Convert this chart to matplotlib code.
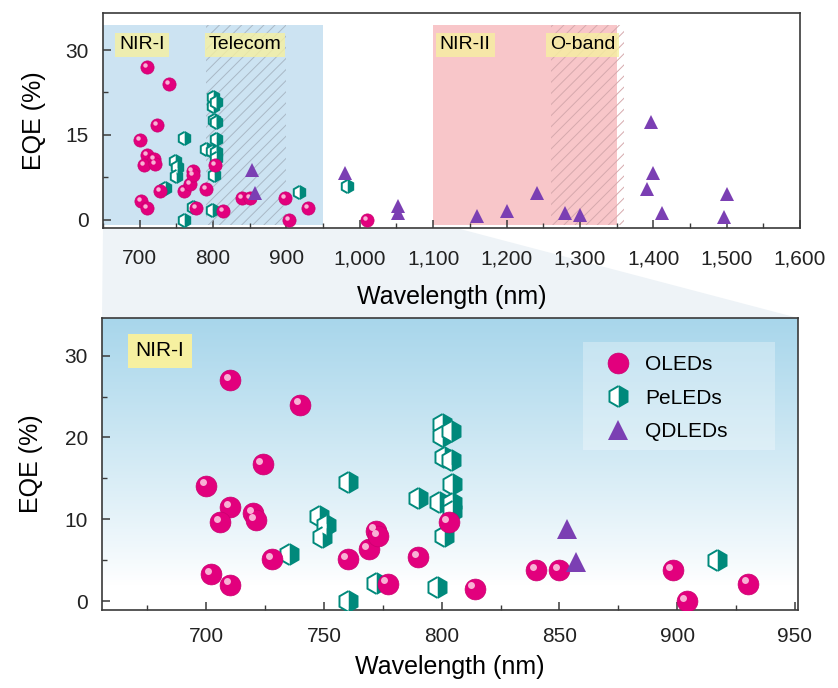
import numpy as np
import matplotlib
matplotlib.use("Agg")
import matplotlib.pyplot as plt
import matplotlib.transforms as mtransforms
from matplotlib.patches import Rectangle, Polygon
from matplotlib.lines import Line2D
from matplotlib.ticker import MultipleLocator, FuncFormatter

plt.rcParams['font.family'] = ['Liberation Sans', 'DejaVu Sans']
plt.rcParams['hatch.linewidth'] = 0.7

# --- data (wavelength in nm, EQE in %) ---
oled_wl = [710, 740, 724, 700, 710, 706, 720, 721, 728, 702, 710, 760, 769, 772,
           773, 777, 790, 803, 814, 840, 850, 898, 904, 930, 1010]
oled_eqe = [27.0, 24.0, 16.7, 14.1, 11.5, 9.6, 10.7, 9.9, 5.1, 3.3, 2.0, 5.1, 6.3, 8.6,
            7.9, 2.1, 5.4, 9.6, 1.5, 3.8, 3.8, 3.8, 0.0, 2.1, 0.0]

pe_wl = [760, 748, 751, 749, 735, 760, 772, 790, 798, 801, 800, 800, 804, 801,
         804, 804.5, 799, 804.5, 804.5, 917, 983]
pe_eqe = [14.5, 10.4, 9.3, 7.8, 5.7, 0.0, 2.2, 12.6, 1.7, 7.9, 21.7, 20.2, 20.8, 17.6,
          17.3, 14.3, 12.1, 12.0, 11.0, 5.0, 5.9]

qd_wl = [853, 857, 980, 1052, 1052, 1160, 1200, 1242, 1280, 1300, 1397, 1400, 1392,
         1412, 1501, 1496]
qd_eqe = [8.8, 4.8, 8.2, 2.4, 1.2, 0.6, 1.5, 4.7, 1.2, 0.9, 17.3, 8.2, 5.4,
          1.2, 4.5, 0.5]

band_names = ['NIR-I', 'NIR-II']
band_start = [650, 1100]
band_end = [950, 1350]
band_colors = ['#cce3f2', '#f8c6c9']

sub_names = ['Telecom', 'O-band']
sub_start = [790, 1260]
sub_end = [900, 1360]
sub_hatch_colors = ['#a9b8c6', '#d6a9ad']

OLED_C = '#e2007d'
PE_C = '#00897b'
QD_C = '#7b3fb3'
LABEL_BOX = '#f6f0a0'

fig = plt.figure(figsize=(8.38, 6.88), dpi=100)
W, H = 838.0, 688.0
ax1 = fig.add_axes([103 / W, 1 - 228.3 / H, 697 / W, 215.6 / H])
ax2 = fig.add_axes([102 / W, 1 - 610 / H, 696 / W, 292 / H])

# faint "zoom" connector between the two panels
fig.add_artist(Polygon([[103 / W, 1 - 229 / H], [460 / W, 1 - 229 / H],
                        [798 / W, 1 - 318 / H], [102 / W, 1 - 318 / H]],
                       closed=True, transform=fig.transFigure,
                       facecolor='#eef3f7', edgecolor='none', zorder=-1))


def draw_points(ax, ms, hi):
    off = mtransforms.offset_copy(ax.transData, fig=fig, x=-ms * 0.16, y=ms * 0.16, units='points')
    ax.plot(oled_wl, oled_eqe, ls='none', marker='o', ms=ms, color=OLED_C,
            mec='#c9006f', mew=0.5, zorder=5)
    ax.plot(oled_wl, oled_eqe, ls='none', marker='o', ms=hi, color='#fbc6df',
            mew=0, alpha=0.9, transform=off, zorder=6)
    ax.plot(pe_wl, pe_eqe, ls='none', marker='h', ms=ms, fillstyle='right',
            markerfacecolor=PE_C, markerfacecoloralt='white', markeredgecolor=PE_C,
            mew=1.4, zorder=4)
    ax.plot(qd_wl, qd_eqe, ls='none', marker='^', ms=ms, color=QD_C, mew=0, zorder=7)


def style_axis(ax):
    for s in ax.spines.values():
        s.set_color('#3a3a3a')
        s.set_linewidth(1.2)
    ax.tick_params(which='both', direction='in', colors='#3a3a3a', labelcolor='#222222',
                   labelsize=15)
    ax.tick_params(which='major', length=6, width=1.1)
    ax.tick_params(which='minor', length=3.5, width=1.0)


# ---------------- top panel ----------------
y0, y1 = -1.0, 34.4
for name, a, b, c in zip(band_names, band_start, band_end, band_colors):
    ax1.add_patch(Rectangle((a, y0), b - a, y1 - y0, facecolor=c, edgecolor='none', zorder=1))
for name, a, b, hc in zip(sub_names, sub_start, sub_end, sub_hatch_colors):
    ax1.add_patch(Rectangle((a, y0), b - a, y1 - y0, facecolor='none', edgecolor=hc,
                            hatch='///', lw=0, zorder=2))

draw_points(ax1, 9.5, 3.2)

label_pos = [(672, 'NIR-I'), (794, 'Telecom'), (1109, 'NIR-II'), (1259, 'O-band')]
for x, t in label_pos:
    ax1.text(x, 30.9, t, fontsize=14, ha='left', va='center', zorder=8,
             bbox=dict(boxstyle='square,pad=0.2', facecolor=LABEL_BOX, edgecolor='none',
                       alpha=0.8))

ax1.set_xlim(650, 1600)
ax1.set_ylim(-1.5, 36.6)
ax1.xaxis.set_major_locator(MultipleLocator(100))
ax1.xaxis.set_minor_locator(MultipleLocator(50))
ax1.yaxis.set_major_locator(MultipleLocator(15))
ax1.yaxis.set_minor_locator(MultipleLocator(7.5))
ax1.xaxis.set_major_formatter(FuncFormatter(lambda v, p: f'{v:,.0f}'))
style_axis(ax1)
ax1.tick_params(axis='x', pad=15)
ax1.tick_params(axis='y', pad=10)
ax1.set_xlabel('Wavelength (nm)', fontsize=18, labelpad=12)
ax1.set_ylabel('EQE (%)', fontsize=18, labelpad=14)

# ---------------- bottom panel ----------------
xl0, xl1 = 655.7, 951.3
yl0, yl1 = -1.1, 34.6
ys = np.linspace(yl0, yl1, 300)
t = np.clip((ys - 2.0) / (yl1 - 2.0), 0, 1) ** 0.9
top_rgb = np.array([168, 214, 235]) / 255.0
white = np.array([1.0, 1.0, 1.0])
grad = white[None, :] * (1 - t[:, None]) + top_rgb[None, :] * t[:, None]
ax2.imshow(grad[:, None, :], extent=[xl0, xl1, yl0, yl1], origin='lower',
           aspect='auto', zorder=0, interpolation='bilinear')

draw_points(ax2, 15, 5)

ax2.text(670, 30.6, 'NIR-I', fontsize=15, ha='left', va='center', zorder=8,
         bbox=dict(boxstyle='square,pad=0.35', facecolor=LABEL_BOX, edgecolor='none'))

# legend: translucent panel behind a frameless legend
ax2.add_patch(Rectangle((0.691, 0.548), 0.276, 0.37, transform=ax2.transAxes,
                        facecolor='white', alpha=0.3, edgecolor='none', zorder=8))
handles = [
    Line2D([], [], ls='none', marker='o', ms=15, color=OLED_C, mec='#c9006f', mew=0.5),
    Line2D([], [], ls='none', marker='h', ms=15, fillstyle='right', markerfacecolor=PE_C,
           markerfacecoloralt='white', markeredgecolor=PE_C, mew=1.4),
    Line2D([], [], ls='none', marker='^', ms=15, color=QD_C, mew=0),
]
leg = ax2.legend(handles, ['OLEDs', 'PeLEDs', 'QDLEDs'], loc='upper left',
                 bbox_to_anchor=(0.717, 0.873), borderaxespad=0, borderpad=0,
                 fontsize=15, frameon=False, handletextpad=0.5, labelspacing=0.7,
                 handlelength=1.6)
leg.set_zorder(9)

ax2.set_xlim(xl0, xl1)
ax2.set_ylim(yl0, yl1)
ax2.xaxis.set_major_locator(MultipleLocator(50))
ax2.xaxis.set_minor_locator(MultipleLocator(25))
ax2.yaxis.set_major_locator(MultipleLocator(10))
ax2.yaxis.set_minor_locator(MultipleLocator(5))
style_axis(ax2)
ax2.tick_params(axis='x', pad=12)
ax2.tick_params(axis='y', pad=10)
ax2.set_xlabel('Wavelength (nm)', fontsize=18, labelpad=7)
ax2.set_ylabel('EQE (%)', fontsize=18, labelpad=16)

fig.savefig('out.png', dpi=100)
